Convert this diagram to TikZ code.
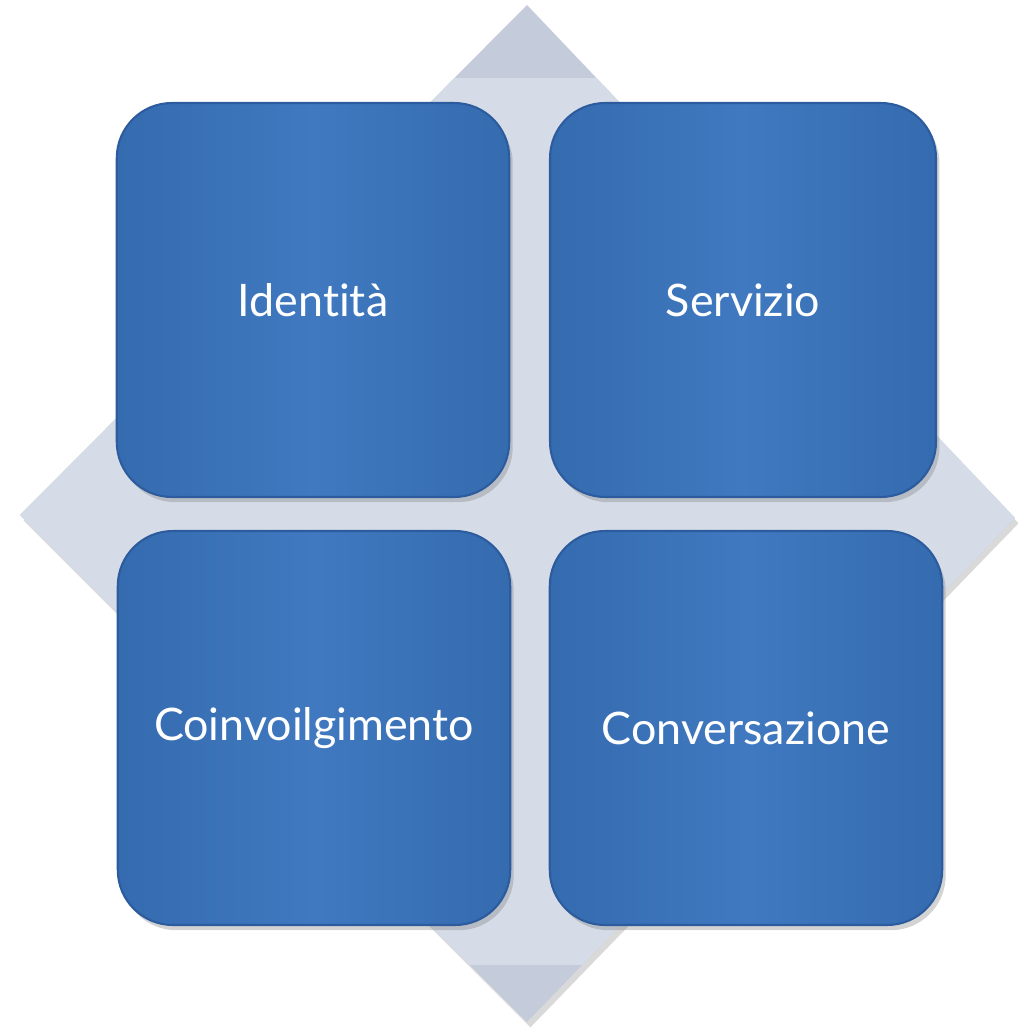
\documentclass[tikz,border=0pt]{standalone}
\usepackage{fontspec}
\setmainfont[Ligatures={NoCommon}]{Lato}
\usetikzlibrary{shadows}

\definecolor{diamondgray}{HTML}{C4CBDB}
\definecolor{diamondlight}{HTML}{D6DCE7}
\definecolor{boxblue}{HTML}{4079C0}
\definecolor{boxside}{HTML}{356BAF}
\definecolor{boxedge}{HTML}{2C5C9E}

\begin{document}
\begin{tikzpicture}[x=0.02cm, y=-0.02cm,
  quad/.style={draw=boxedge, line width=1.2pt, left color=boxside, right color=boxside,
    middle color=boxblue, rounded corners=1.1cm,
    minimum width=7.85cm, minimum height=7.88cm, text=white,
    font=\fontsize{25.5}{30}\selectfont,
    drop shadow={opacity=0.35, shadow xshift=2pt, shadow yshift=-3pt}}]
\useasboundingbox (0,0) rectangle (1017,1030);
% background diamond
\coordinate (dtop) at (527,5);
\coordinate (dright) at (1015,518);
\coordinate (dbot) at (527,1022);
\coordinate (dleft) at (20,515);
\fill[diamondgray, drop shadow={opacity=0.3, shadow xshift=2pt, shadow yshift=-3pt}]
  (dtop) -- (dright) -- (dbot) -- (dleft) -- cycle;
\begin{scope}
  \clip (dtop) -- (dright) -- (dbot) -- (dleft) -- cycle;
  \fill[diamondlight] (0,78) rectangle (1017,965);
\end{scope}
% four boxes
\node[quad] (ident) at (313,300) {Identità};
\node[quad, minimum width=7.72cm] (serv) at (743,300) {Servizio};
\node[quad] (coinv) at (314,728) {Coinvoilgimento};
\node[quad] (conv) at (746,728) {Conversazione};
\end{tikzpicture}
\end{document}
